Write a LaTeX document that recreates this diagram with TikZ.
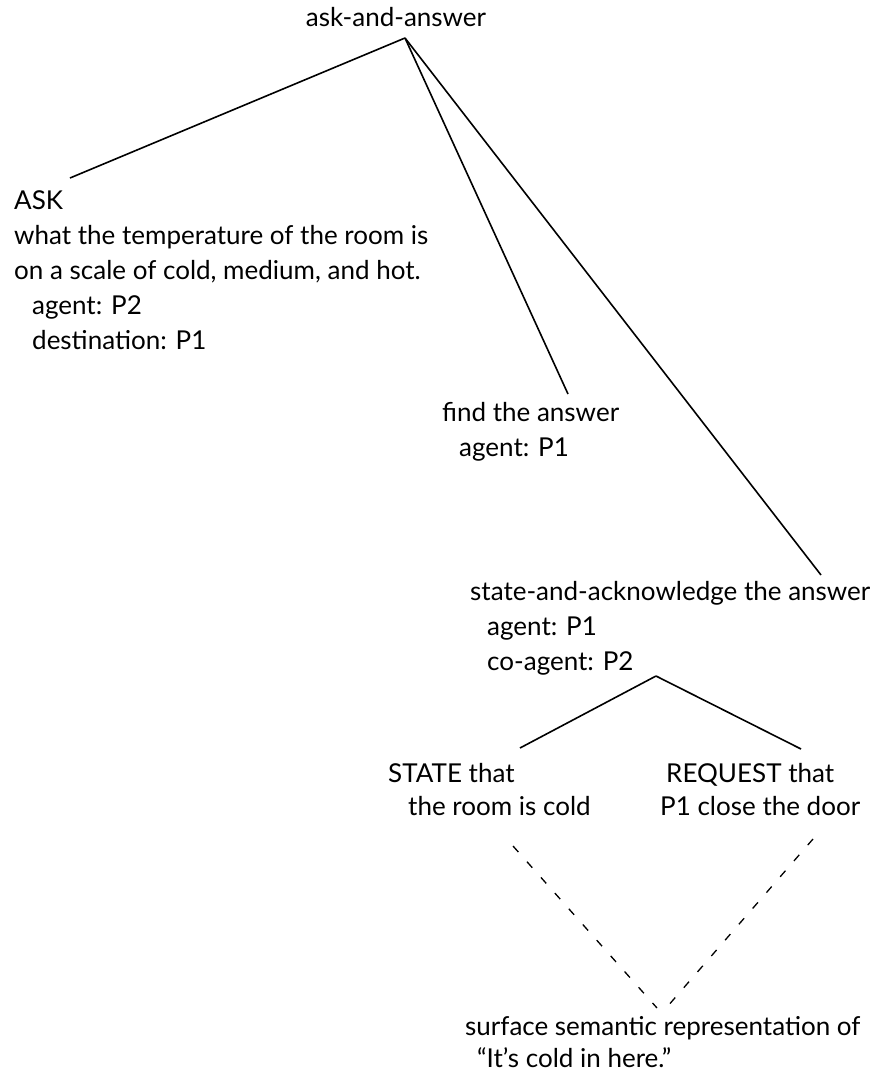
\documentclass[tikz,border=0pt]{standalone}
\usepackage{fontspec}
\setmainfont{Lato}
\usepackage{tikz}

\tikzset{
  lbl/.style={inner sep=0pt, align=left, anchor=base west,
              font=\fontsize{26}{35}\selectfont},
  branch/.style={line width=1.6pt},
  surfline/.style={line width=1.3pt, dash pattern=on 8pt off 13pt}
}

\begin{document}
\begin{tikzpicture}[x=1pt, y=-1pt]
\useasboundingbox (0, 0) rectangle (874, 1076);
% plan nodes (placed by the baseline of their last line)
\node[lbl, anchor=base] (root) at (396, 26) {ask-and-answer};
\node[lbl] (ask) at (14, 349) {ASK\\what the temperature of the room is\\on a scale of cold, medium, and hot.\\
      \hspace*{18pt}agent: P2\\\hspace*{18pt}destination: P1};
\node[lbl] (find) at (442, 456) {find the answer\\\hspace*{17pt}agent: P1};
\node[lbl] (sack) at (470, 670) {state-and-acknowledge the answer\\
      \hspace*{17pt}agent: P1\\\hspace*{17pt}co-agent: P2};
\node[lbl, font=\fontsize{26}{33}\selectfont] (state) at (388, 815)
      {STATE that\\\hspace*{20pt}the room is cold};
\node[lbl, font=\fontsize{26}{33}\selectfont] (request) at (660, 815)
      {\hspace*{6pt}REQUEST that\\P1 close the door};
\node[lbl, font=\fontsize{26}{32}\selectfont] (surface) at (465, 1067)
      {surface semantic representation of\\\hspace*{12pt}``It's cold in here.''};
% tree branches
\draw[branch] ([shift={(9pt,-12pt)}]root.base) -- ([shift={(56pt,171pt)}]ask.base west);
\draw[branch] ([shift={(9pt,-12pt)}]root.base) -- ([shift={(126pt,62pt)}]find.base west);
\draw[branch] ([shift={(9pt,-12pt)}]root.base) -- ([shift={(351pt,95pt)}]sack.base west);
\draw[branch] ([shift={(186pt,-6pt)}]sack.base west) -- ([shift={(132pt,67pt)}]state.base west);
\draw[branch] ([shift={(186pt,-6pt)}]sack.base west) -- ([shift={(141pt,66pt)}]request.base west);
% both acts map onto one surface form
\draw[surfline] ([shift={(125pt,-31pt)}]state.base west) -- ([shift={(192pt,59pt)}]surface.base west);
\draw[surfline] ([shift={(153pt,-24pt)}]request.base west) -- ([shift={(202pt,60pt)}]surface.base west);
\end{tikzpicture}
\end{document}
